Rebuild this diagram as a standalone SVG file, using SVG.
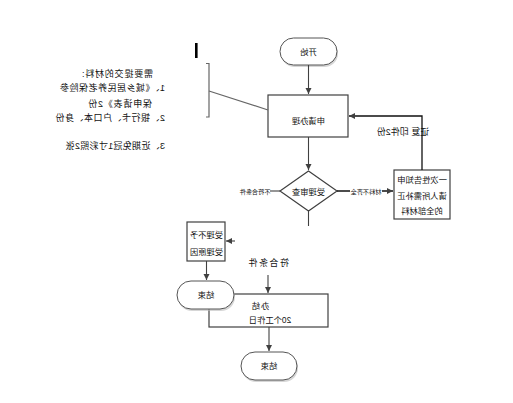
<svg xmlns="http://www.w3.org/2000/svg" width="513" height="403" viewBox="0 0 513 403">
<style>
  .shape{fill:#fff;stroke:#404040;stroke-width:1.2}
  .oval{fill:#fff;stroke:#555;stroke-width:1}
  .shadow{fill:#bbb;stroke:none;opacity:0.6}
  .ln{fill:none;stroke:#404040;stroke-width:1.1}
  .lnb{fill:none;stroke:#111;stroke-width:1.3}
  .ann{fill:none;stroke:#666;stroke-width:1.2}
  text{font-family:"Liberation Sans","Noto Sans CJK SC",sans-serif;fill:#111}
  .t8{font-size:8.3px;text-anchor:middle}
  .t9{font-size:9px}
  .t6{font-size:6.2px;text-anchor:middle}
</style>
<defs>
  <marker id="arr" markerUnits="userSpaceOnUse" markerWidth="7" markerHeight="7" refX="6" refY="3.5" orient="auto">
    <path d="M0,0.5 L6,3.5 L0,6.5 Z" fill="#404040"/>
  </marker>
</defs>

<rect x="195" y="43" width="2.6" height="15" fill="#000"/>

<g id="note">
  <path class="ann" d="M206,63.5 H209 V117 H206"/>
  <g transform="matrix(-1 0 0 1 513 0)" class="t9">
    <text x="360" y="76.5" letter-spacing="0.8">需要提交的材料:</text>
    <text x="348" y="90.5" letter-spacing="0.5">1、《城乡居民养老保险参</text>
    <text x="361" y="106.5" letter-spacing="0.8">保申请表》2份</text>
    <text x="348" y="120.5" letter-spacing="0.5">2、银行卡、户口本、身份</text>
    <text x="348" y="148.5" letter-spacing="0.3">3、近期免冠1寸彩照2张</text>
  </g>
</g>

<g id="start">
  <rect class="shadow" x="281" y="40" width="57" height="27" rx="13.5"/>
  <rect class="oval" x="280" y="38" width="57" height="27" rx="13.5"/>
  <g transform="matrix(-1 0 0 1 513 0)"><text class="t8" x="204.5" y="54.5">开始</text></g>
</g>

<g id="apply">
  <rect class="shape" x="268" y="95" width="80" height="42"/>
  <g transform="matrix(-1 0 0 1 513 0)"><text class="t8" x="204.5" y="124">申请办理</text></g>
</g>

<g id="review">
  <polygon class="shape" points="308.5,171 337,191 308.5,211 280,191"/>
  <g transform="matrix(-1 0 0 1 513 0)"><text class="t8" x="204.5" y="194.5">受理审查</text></g>
</g>

<g id="notify">
  <rect class="shape" x="394" y="170" width="56" height="49"/>
  <g transform="matrix(-1 0 0 1 513 0)">
    <text class="t8" x="91" y="183">一次性告知申</text>
    <text class="t8" x="91" y="198.5">请人所需补正</text>
    <text class="t8" x="91" y="214">的全部材料</text>
  </g>
</g>

<g id="reject">
  <rect class="shape" x="187" y="222" width="38" height="39"/>
  <g transform="matrix(-1 0 0 1 513 0)">
    <text class="t8" x="306.5" y="238">受理不予</text>
    <text class="t8" x="306.5" y="255">受理原因</text>
  </g>
</g>

<g id="done">
  <rect class="shape" x="209" y="294" width="119" height="33"/>
  <g transform="matrix(-1 0 0 1 513 0)">
    <text class="t8" x="253" y="309" letter-spacing="1">办结</text>
    <text class="t8" x="243" y="323">20个工作日</text>
  </g>
</g>

<g id="end1">
  <rect class="shadow" x="178" y="283" width="57" height="28" rx="14"/>
  <rect class="oval" x="177" y="281" width="57" height="28" rx="14"/>
  <g transform="matrix(-1 0 0 1 513 0)"><text class="t8" x="307" y="298">结束</text></g>
</g>

<g id="end2">
  <rect class="shadow" x="242" y="354" width="56" height="28" rx="14"/>
  <rect class="oval" x="241" y="352" width="56" height="28" rx="14"/>
  <g transform="matrix(-1 0 0 1 513 0)"><text class="t8" x="244" y="369">结束</text></g>
</g>

<g id="connectors">
  <line class="ann" x1="209" y1="91" x2="268" y2="110"/>
  <line class="ln" x1="308.5" y1="65" x2="308.5" y2="94" marker-end="url(#arr)"/>
  <line class="ln" x1="308.5" y1="137" x2="308.5" y2="170" marker-end="url(#arr)"/>
  <line class="lnb" x1="337" y1="191" x2="393" y2="191" marker-end="url(#arr)"/>
  <rect x="350" y="187" width="32" height="8" fill="#fff"/>
  <polyline class="lnb" points="422,170 422,116 349,116" marker-end="url(#arr)"/>
  <line class="ln" x1="270" y1="191" x2="280" y2="191"/>
  <line class="ln" x1="308.5" y1="211" x2="308.5" y2="226"/>
  <line class="ln" x1="235" y1="241" x2="226" y2="241" marker-end="url(#arr)"/>
  <line class="ln" x1="206.5" y1="261" x2="206.5" y2="280" marker-end="url(#arr)"/>
  <line class="ln" x1="268" y1="275" x2="268" y2="293" marker-end="url(#arr)"/>
  <line class="ln" x1="269" y1="327" x2="269" y2="351" marker-end="url(#arr)"/>
  <g transform="matrix(-1 0 0 1 513 0)">
    <text class="t6" x="147" y="194">材料不齐全</text>
    <text class="t6" x="258" y="194">不符合条件</text>
    <text class="t9" x="110" y="135" text-anchor="middle">证复 印件2份</text>
    <text class="t9" x="245" y="266" text-anchor="middle" letter-spacing="1.5">符合条件</text>
  </g>
</g>
</svg>
